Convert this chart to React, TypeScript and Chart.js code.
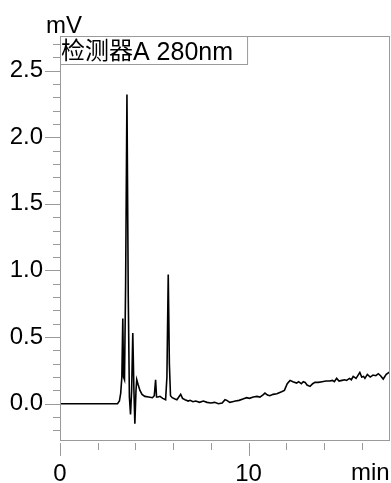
import { useEffect, useRef } from 'react';
import { Chart, registerables } from 'chart.js';

Chart.register(...registerables);

// retention time (min)
const times = [
  0, 1.0, 2.0, 3.05, 3.15, 3.22, 3.28, 3.33, 3.37, 3.42, 3.48, 3.55, 3.62, 3.68, 3.74, 3.8, 3.86,
  3.92, 3.97, 4.03, 4.07, 4.15, 4.24, 4.35, 4.5, 4.7, 4.9, 5.0, 5.07, 5.12, 5.2, 5.3, 5.45, 5.6,
  5.67, 5.74, 5.8, 5.86, 5.95, 6.1, 6.2, 6.3, 6.4, 6.5, 6.63, 6.8, 6.9, 7.05, 7.2, 7.4, 7.6, 7.8,
  8.0, 8.2, 8.4, 8.6, 8.75, 8.85, 9.0, 9.15, 9.3, 9.5, 9.7, 9.9, 10.05, 10.25, 10.45, 10.6, 10.75,
  10.87, 11.0, 11.13, 11.3, 11.5, 11.75, 11.9, 12.05, 12.2, 12.35, 12.55, 12.65, 12.8, 12.9, 13.0,
  13.1, 13.26, 13.4, 13.52, 13.7, 13.9, 14.1, 14.3, 14.45, 14.55, 14.67, 14.8, 14.95, 15.1, 15.2,
  15.35, 15.45, 15.55, 15.7, 15.9, 16.0, 16.1, 16.17, 16.3, 16.45, 16.6, 16.75, 16.88, 17.0, 17.14,
  17.3, 17.5,
];

// detector signal (mV)
const signal = [
  0, 0, 0, 0, 0.02, 0.08, 0.2, 0.64, 0.2, 0.18, 0.9, 2.32, 0.8, 0.05, -0.08, 0.1, 0.53,
  0.1, -0.15, 0.1, 0.18, 0.14, 0.1, 0.07, 0.055, 0.05, 0.045, 0.06, 0.18, 0.05, 0.05, 0.055, 0.04, 0.03,
  0.2, 0.97, 0.3, 0.06, 0.045, 0.035, 0.03, 0.05, 0.07, 0.04, 0.03, 0.02, 0.025, 0.015, 0.02, 0.01, 0.02, 0.01,
  0.005, 0.01, 0.0, 0.005, 0.03, 0.025, 0.01, 0.015, 0.02, 0.025, 0.035, 0.045, 0.04, 0.05, 0.055, 0.05, 0.065,
  0.08, 0.065, 0.06, 0.07, 0.075, 0.09, 0.1, 0.15, 0.175, 0.165, 0.155, 0.165, 0.15, 0.165, 0.16,
  0.14, 0.13, 0.15, 0.16, 0.16, 0.165, 0.17, 0.17, 0.175, 0.165, 0.19, 0.17, 0.175, 0.18, 0.175,
  0.19, 0.18, 0.205, 0.19, 0.235, 0.2, 0.205, 0.19, 0.22, 0.2, 0.215, 0.21, 0.225, 0.21, 0.185,
  0.22, 0.24,
];

const xTickValues = [0, 2, 4, 6, 8, 10, 12, 14, 16];
const xLabelled = [0, 10];
const yTickValues = [
  -0.2, -0.1, 0, 0.1, 0.2, 0.3, 0.4, 0.5, 0.6, 0.7, 0.8, 0.9, 1.0, 1.1, 1.2, 1.3, 1.4, 1.5,
  1.6, 1.7, 1.8, 1.9, 2.0, 2.1, 2.2, 2.3, 2.4, 2.5, 2.6, 2.7,
];
const yLabelled = [0, 0.5, 1.0, 1.5, 2.0, 2.5];
const legendCjk = '检测器';
const legendLatin = 'A 280nm';
const yUnit = 'mV';
const xUnit = 'min';

const LATIN = '"Liberation Sans", Arial, sans-serif';
const CJK = '"Noto Sans CJK SC", sans-serif';
const GREY = '#9a9a9a';

const near = (a: number, list: number[]) => list.some((v) => Math.abs(v - a) < 1e-6);

const decor = {
  id: 'decor',
  afterDraw(chart: any) {
    const { ctx, chartArea: a, scales } = chart;
    ctx.save();
    ctx.strokeStyle = GREY;
    ctx.lineWidth = 1;
    // frame
    ctx.strokeRect(a.left + 0.5, a.top + 0.5, a.right - a.left - 1, a.bottom - a.top - 1);
    // y ticks
    ctx.beginPath();
    for (const v of yTickValues) {
      const y = Math.round(scales.y.getPixelForValue(v)) + 0.5;
      const major = near(v, yLabelled);
      ctx.moveTo(a.left - (major ? 15 : 7), y);
      ctx.lineTo(a.left, y);
    }
    // x ticks
    for (const v of xTickValues) {
      const x = Math.round(scales.x.getPixelForValue(v)) + 0.5;
      const major = near(v, xLabelled);
      ctx.moveTo(x, a.bottom + 2);
      ctx.lineTo(x, a.bottom + (major ? 15 : 9));
    }
    ctx.stroke();
    // legend box
    ctx.textBaseline = 'alphabetic';
    ctx.textAlign = 'left';
    ctx.font = `24px ${CJK}`;
    const w1 = ctx.measureText(legendCjk).width;
    ctx.font = `25px ${LATIN}`;
    const w2 = ctx.measureText(legendLatin).width;
    const boxW = w1 + w2 + 15;
    ctx.fillStyle = '#fff';
    ctx.fillRect(a.left, a.top, boxW, 28);
    ctx.strokeRect(a.left + 0.5, a.top + 0.5, boxW, 28);
    ctx.fillStyle = '#000';
    ctx.font = `24px ${CJK}`;
    ctx.fillText(legendCjk, a.left + 1, a.top + 23);
    ctx.font = `25px ${LATIN}`;
    ctx.fillText(legendLatin, a.left + 1 + w1, a.top + 24);
    // units
    ctx.font = `24px ${LATIN}`;
    ctx.fillText(yUnit, 46, a.top - 3);
    ctx.fillText(xUnit, 351, 480);
    ctx.restore();
  },
};

export default function App() {
  const ref = useRef<HTMLCanvasElement | null>(null);
  useEffect(() => {
    if (!ref.current) return;
    const chart = new Chart(ref.current, {
      type: 'line',
      data: {
        datasets: [
          {
            data: times.map((t, i) => ({ x: t, y: signal[i] })),
            borderColor: '#000',
            borderWidth: 1.6,
            pointRadius: 0,
            tension: 0,
            fill: false,
          },
        ],
      },
      options: {
        animation: false,
        responsive: false,
        devicePixelRatio: 1,
        layout: { padding: { top: 36, right: 1, left: 0, bottom: 0 } },
        plugins: { legend: { display: false }, tooltip: { enabled: false } },
        scales: {
          x: {
            type: 'linear',
            min: 0,
            max: 17.5,
            grid: { display: false, drawTicks: false },
            border: { display: false },
            afterBuildTicks: (s: any) => {
              s.ticks = xTickValues.map((v) => ({ value: v }));
            },
            afterFit: (s: any) => {
              s.height = 42;
            },
            ticks: {
              autoSkip: false,
              maxRotation: 0,
              padding: 19,
              color: '#000',
              font: { family: LATIN, size: 24 },
              callback: (v: any) => (near(Number(v), xLabelled) ? String(v) : ''),
            },
          },
          y: {
            type: 'linear',
            min: -0.28,
            max: 2.76,
            grid: { display: false, drawTicks: false },
            border: { display: false },
            afterBuildTicks: (s: any) => {
              s.ticks = yTickValues.map((v) => ({ value: v }));
            },
            afterFit: (s: any) => {
              s.width = 60;
            },
            ticks: {
              autoSkip: false,
              padding: 17,
              color: '#000',
              font: { family: LATIN, size: 24 },
              callback: (v: any) => (near(Number(v), yLabelled) ? Number(v).toFixed(1) : ''),
            },
          },
        },
      },
      plugins: [decor],
    });
    return () => chart.destroy();
  }, []);
  return (
    <div style={{ position: 'fixed', left: 0, top: 0, width: 391, height: 483, background: '#fff' }}>
      <canvas ref={ref} width={391} height={483} />
    </div>
  );
}
